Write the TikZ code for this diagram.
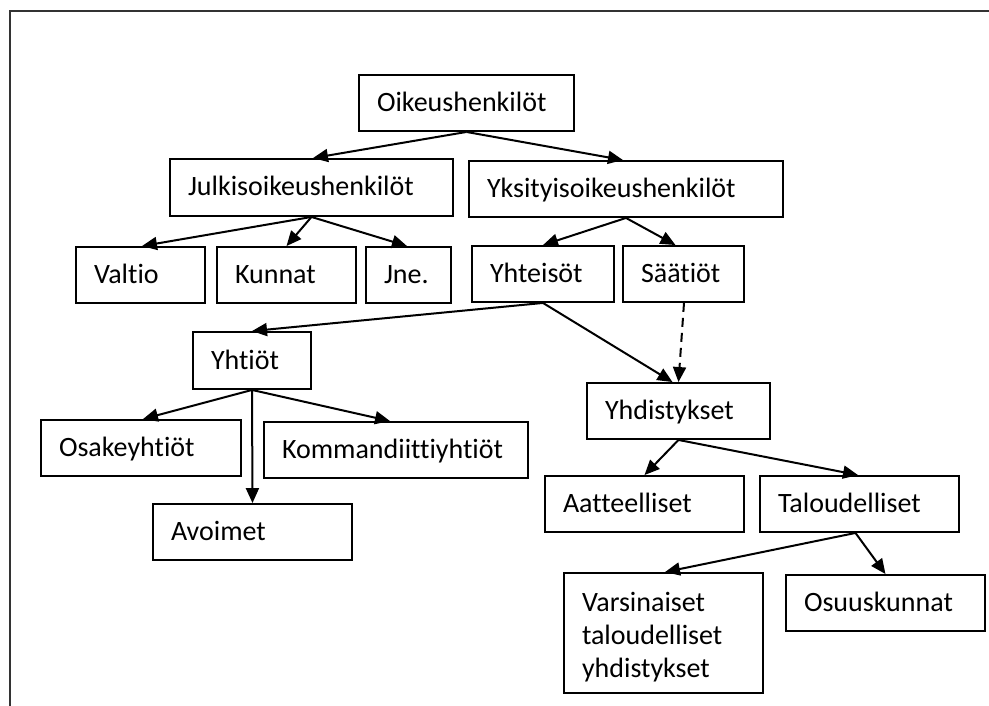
\documentclass[tikz,border=0pt]{standalone}
\usepackage{fontspec}
\setmainfont{Carlito}[Ligatures={NoCommon}]
\usetikzlibrary{arrows.meta}
\tikzset{
  box/.style={draw, line width=1.9pt, rectangle, inner xsep=18pt, inner ysep=0pt, align=left,
    font=\fontsize{28}{33}\selectfont},
  oneline/.style={text height=24pt, text depth=7pt},
  arr/.style={line width=2pt, -{Triangle[length=15pt,width=13pt]}},
  dash arr/.style={arr, dash pattern=on 9pt off 6pt},
  frame/.style={line width=1.5pt, draw=black!80}
}
\newcommand\mybox[7][oneline]{%
  \pgfmathsetmacro\bw{#5-#3-36}%
  \pgfmathsetmacro\bh{#6-#4}%
  \node[box, #1, text width=\bw pt, minimum height=\bh pt] (#2) at ({(#3+#5)/2},{(#4+#6)/2}) {#7};}
\begin{document}
\begin{tikzpicture}[x=1pt,y=-1pt]
\useasboundingbox (0,0) rectangle (989,706);
\coordinate (fa) at (10,706);
\coordinate (fb) at (10,11);
\coordinate (fc) at (989,11);
\draw[frame] (fa) -- (fb) -- (fc);

\mybox{oik}{359}{75}{574}{131}{Oikeushenkilöt}
\mybox{jul}{170}{159}{453}{216}{Julkisoikeushenkilöt}
\mybox{yks}{469}{161}{783}{217}{Yksityisoikeushenkilöt}
\mybox{val}{76}{247}{205}{303}{Valtio}
\mybox{kun}{217}{247}{356}{303}{Kunnat}
\mybox{jne}{366}{247}{451}{303}{Jne.}
\mybox{yht}{472}{246}{614}{302}{Yhteisöt}
\mybox{saa}{623}{246}{744}{302}{Säätiöt}
\mybox{yhti}{193}{332}{311}{389}{Yhtiöt}
\mybox{osa}{41}{420}{241}{476}{Osakeyhtiöt}
\mybox{kom}{264}{422}{528}{478}{Kommandiittiyhtiöt}
\mybox{avo}{153}{504}{352}{560}{Avoimet}
\mybox{yhd}{587}{383}{770}{439}{Yhdistykset}
\mybox{aat}{545}{476}{744}{532}{Aatteelliset}
\mybox{tal}{760}{476}{959}{532}{Taloudelliset}
\mybox[]{var}{564}{573}{763}{693}{\rule{0pt}{27pt}Varsinaiset\\taloudelliset\\yhdistykset}
\mybox{osu}{786}{575}{985}{631}{Osuuskunnat}

\draw[arr] (oik.south) -- ([xshift=1.5pt]jul.north);
\draw[arr] (oik.south) -- ([xshift=-3pt]yks.north);
\draw[arr] (jul.south) -- ([xshift=1.5pt]val.north);
\draw[arr] (jul.south) -- (kun.north);
\draw[arr] (jul.south) -- ([xshift=-1.5pt]jne.north);
\draw[arr] (yks.south) -- (yht.north);
\draw[arr] (yks.south) -- ([xshift=-8pt]saa.north);
\draw[arr] (yht.south) -- (yhti.north);
\draw[arr] (yht.south) -- ([xshift=-6pt]yhd.north);
\draw[dash arr] ([xshift=0.5pt]saa.south) -- (yhd.north);
\draw[arr] (yhti.south) -- ([xshift=2pt]osa.north);
\draw[arr] (yhti.south) -- (avo.north);
\draw[arr] (yhti.south) -- ([xshift=-6pt]kom.north);
\draw[arr] (yhd.south) -- (aat.north);
\draw[arr] (yhd.south) -- ([xshift=-1.5pt]tal.north);
\draw[arr] ([xshift=-4pt]tal.south) -- ([xshift=1.5pt]var.north);
\draw[arr] ([xshift=-4pt]tal.south) -- (osu.north);
\end{tikzpicture}
\end{document}
